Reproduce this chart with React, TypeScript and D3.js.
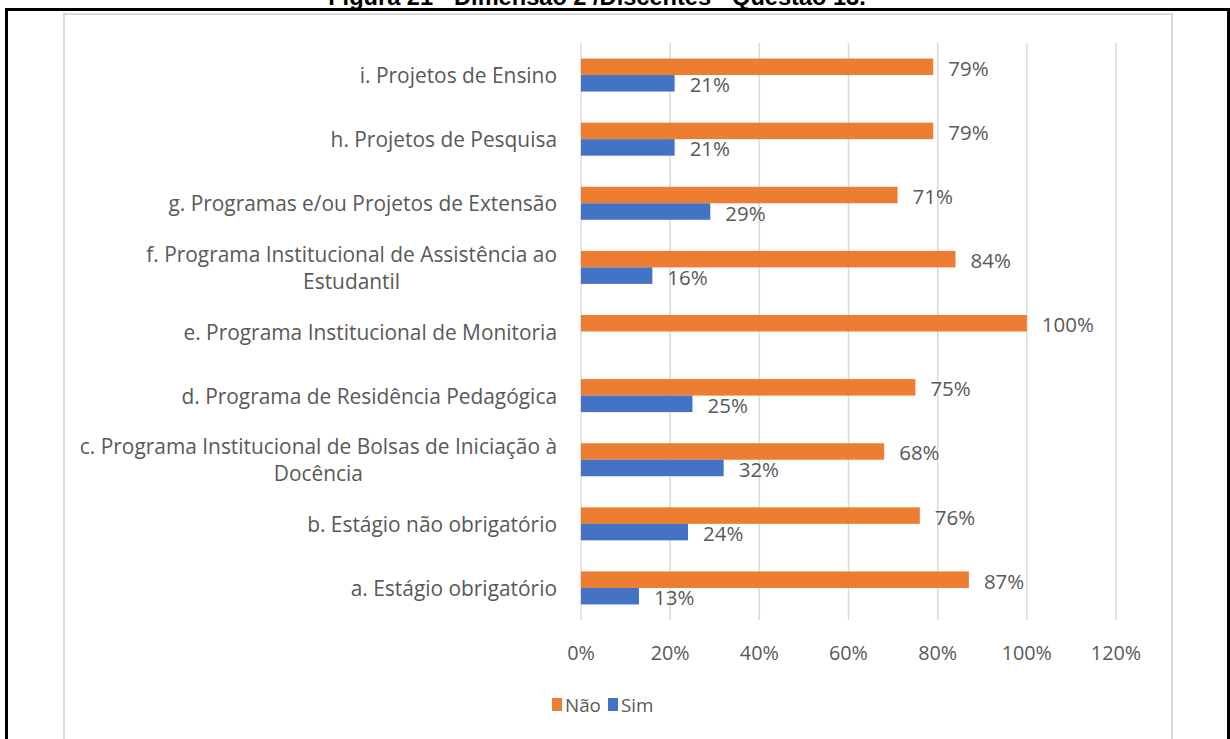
import React from "react";
import * as d3 from "d3";

const categories: string[][] = [
  ["i. Projetos de Ensino"],
  ["h. Projetos de Pesquisa"],
  ["g. Programas e/ou Projetos de Extensão"],
  ["f. Programa Institucional de Assistência ao", "Estudantil"],
  ["e. Programa Institucional de Monitoria"],
  ["d. Programa de Residência Pedagógica"],
  ["c. Programa Institucional de Bolsas de Iniciação à", "Docência"],
  ["b. Estágio não obrigatório"],
  ["a. Estágio obrigatório"],
];
const naoValues = [0.79, 0.79, 0.71, 0.84, 1.0, 0.75, 0.68, 0.76, 0.87];
const simValues = [0.21, 0.21, 0.29, 0.16, 0, 0.25, 0.32, 0.24, 0.13];
const xTicks = [0, 0.2, 0.4, 0.6, 0.8, 1.0, 1.2];
const seriesNames = ["Não", "Sim"];

const ORANGE = "#ED7D31";
const BLUE = "#4472C4";
const TEXT = "#595959";
const FONT = "'Open Sans', 'Noto Sans', sans-serif";
const FS_CAT = 20.9;
const FS_LBL = 20.5;
const FS_TICK = 19.8;
const FS_LEG = 18.8;

export default function App() {
  const x = d3.scaleLinear().domain([0, 1.2]).range([581, 1116]);
  const y = d3
    .scaleBand<number>()
    .domain(d3.range(categories.length))
    .range([43, 620]);
  const bw = y.bandwidth();
  const barH = 16.5;
  const fmt = d3.format(".0%");

  return (
    <svg
      width={1230}
      height={739}
      style={{ position: "absolute", left: 0, top: 0, background: "#fff" }}
    >
      <text
        x={597}
        y={5}
        textAnchor="middle"
        fontFamily="'Liberation Sans', Arial, sans-serif"
        fontWeight="bold"
        fontSize={23.6}
        fill="#000"
      >
        Figura 21 - Dimensão 2 /Discentes - Questão 13.
      </text>
      <rect x={6.5} y={9.5} width={1222} height={760} fill="none" stroke="#000" strokeWidth={3} />
      <rect x={64} y={14} width={1108} height={740} fill="none" stroke="#d9d9d9" strokeWidth={2} />

      {xTicks.map((t) => (
        <g key={t}>
          <line x1={x(t)} x2={x(t)} y1={43} y2={620} stroke="#d9d9d9" strokeWidth={1.5} />
          <text
            x={x(t)}
            y={652}
            textAnchor="middle"
            dominantBaseline="central"
            fontFamily={FONT}
            fontSize={FS_TICK}
            fill={TEXT}
          >
            {fmt(t)}
          </text>
        </g>
      ))}

      {categories.map((lines, i) => {
        const cy = (y(i) as number) + bw / 2;
        const lh = 27;
        const y0 = cy - ((lines.length - 1) * lh) / 2;
        return (
          <text
            key={i}
            textAnchor="middle"
            dominantBaseline="central"
            fontFamily={FONT}
            fontSize={FS_CAT}
            fill={TEXT}
            ref={(el) => {
              if (!el) return;
              const w = el.getBBox().width;
              const tx = 557 - w / 2;
              el.querySelectorAll("tspan").forEach((ts) => ts.setAttribute("x", String(tx)));
            }}
          >
            {lines.map((ln, j) => (
              <tspan key={j} x={557} y={y0 + j * lh}>
                {ln}
              </tspan>
            ))}
          </text>
        );
      })}

      {categories.map((_, i) => {
        const cy = (y(i) as number) + bw / 2;
        const n = naoValues[i];
        const s = simValues[i];
        return (
          <g key={"b" + i}>
            <rect x={x(0)} y={cy - barH} width={x(n) - x(0)} height={barH} fill={ORANGE} />
            <text
              x={x(n) + 15}
              y={cy - barH / 2 + 1}
              dominantBaseline="central"
              fontFamily={FONT}
              fontSize={FS_LBL}
              fill={TEXT}
            >
              {fmt(n)}
            </text>
            {s > 0 && (
              <>
                <rect x={x(0)} y={cy} width={x(s) - x(0)} height={barH} fill={BLUE} />
                <text
                  x={x(s) + 15}
                  y={cy + barH / 2 + 1}
                  dominantBaseline="central"
                  fontFamily={FONT}
                  fontSize={FS_LBL}
                  fill={TEXT}
                >
                  {fmt(s)}
                </text>
              </>
            )}
          </g>
        );
      })}

      {seriesNames.map((name, k) => (
        <g key={name}>
          <rect x={552 + k * 56} y={698} width={10} height={13} fill={k === 0 ? ORANGE : BLUE} />
          <text
            x={565 + k * 56}
            y={705}
            dominantBaseline="central"
            fontFamily={FONT}
            fontSize={FS_LEG}
            fill={TEXT}
          >
            {name}
          </text>
        </g>
      ))}
    </svg>
  );
}
